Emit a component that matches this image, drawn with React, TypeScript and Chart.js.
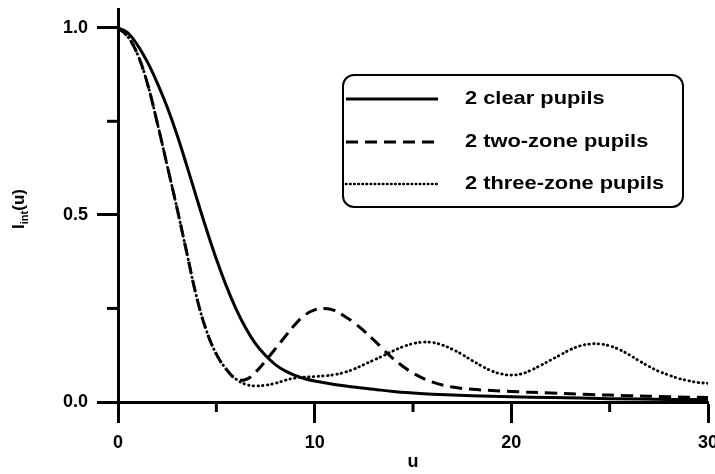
import React, { useEffect, useRef } from "react";
import { Chart, registerables } from "chart.js";

Chart.register(...registerables);

// ---- data ----
const uClear = [0, 0.5, 1, 1.5, 2, 2.5, 3, 3.5, 4, 4.5, 5, 5.5, 6, 6.5, 7, 7.5, 8, 8.5, 9, 9.5, 10, 11, 12, 13, 14, 15, 16, 18, 20, 22, 25, 28, 30];
const iClear = [1.0, 0.986, 0.953, 0.908, 0.852, 0.788, 0.714, 0.631, 0.545, 0.461, 0.382, 0.311, 0.249, 0.197, 0.155, 0.124, 0.1, 0.083, 0.071, 0.062, 0.056, 0.047, 0.04, 0.034, 0.028, 0.024, 0.021, 0.017, 0.014, 0.012, 0.009, 0.007, 0.006];

const uTwoZone = [0, 0.5, 1, 1.5, 2, 2.5, 3, 3.5, 4, 4.5, 5, 5.5, 6, 6.5, 7, 7.5, 8, 8.5, 9, 9.5, 10, 10.5, 11, 11.5, 12, 12.5, 13, 13.5, 14, 14.5, 15, 16, 17, 18, 19, 20, 22, 24, 26, 28, 30];
const iTwoZone = [1.0, 0.976, 0.928, 0.85, 0.745, 0.632, 0.518, 0.398, 0.28, 0.19, 0.128, 0.088, 0.062, 0.06, 0.08, 0.11, 0.142, 0.175, 0.207, 0.232, 0.246, 0.25, 0.245, 0.23, 0.212, 0.19, 0.166, 0.14, 0.115, 0.095, 0.077, 0.053, 0.04, 0.034, 0.031, 0.028, 0.024, 0.02, 0.017, 0.014, 0.012];

const uThreeZone = [0, 0.5, 1, 1.5, 2, 2.5, 3, 3.5, 4, 4.5, 5, 5.5, 6, 6.5, 7, 7.5, 8, 8.5, 9, 10, 10.5, 11, 11.5, 12, 12.5, 13, 13.5, 14, 14.5, 15, 15.5, 16, 16.5, 17, 17.5, 18, 18.5, 19, 19.5, 20, 20.5, 21, 21.5, 22, 22.5, 23, 23.5, 24, 24.5, 25, 25.5, 26, 26.5, 27, 27.5, 28, 28.5, 29, 29.5, 30];
const iThreeZone = [1.0, 0.976, 0.928, 0.85, 0.745, 0.632, 0.518, 0.398, 0.28, 0.19, 0.128, 0.088, 0.061, 0.047, 0.043, 0.045, 0.05, 0.058, 0.064, 0.068, 0.07, 0.073, 0.079, 0.088, 0.1, 0.112, 0.124, 0.137, 0.148, 0.156, 0.16, 0.159, 0.152, 0.141, 0.127, 0.111, 0.096, 0.083, 0.075, 0.072, 0.075, 0.085, 0.098, 0.112, 0.126, 0.14, 0.15, 0.155, 0.155, 0.15, 0.14, 0.126, 0.11, 0.095, 0.082, 0.072, 0.063, 0.057, 0.052, 0.05];

const seriesNames = ["2 clear pupils", "2 two-zone pupils", "2 three-zone pupils"];
const xMajorTicks = [0, 10, 20, 30];
const xMinorTicks = [5, 15, 25];
const yMajorTicks = [0, 0.5, 1.0];
const yMinorTicks = [0.25, 0.75];
const xTitle = "u";

const FONT = '"Liberation Sans", Arial, Helvetica, sans-serif';
const DASH = [12, 7];
const DOT = [0.5, 4.2];

const zip = (xs: number[], ys: number[]) => xs.map((x, i) => ({ x, y: ys[i] }));

const decorPlugin = {
  id: "decor",
  afterDraw(chart: any) {
    const ctx = chart.ctx as CanvasRenderingContext2D;
    const xs = chart.scales.x;
    const ys = chart.scales.y;
    const area = chart.chartArea;
    ctx.save();
    ctx.strokeStyle = "#000";
    ctx.fillStyle = "#000";
    ctx.lineWidth = 3;
    ctx.lineCap = "butt";
    // minor ticks
    xMinorTicks.forEach((v) => {
      const px = xs.getPixelForValue(v);
      ctx.beginPath();
      ctx.moveTo(px, area.bottom);
      ctx.lineTo(px, area.bottom + 10);
      ctx.stroke();
    });
    yMinorTicks.forEach((v) => {
      const py = ys.getPixelForValue(v);
      ctx.beginPath();
      ctx.moveTo(area.left - 11, py);
      ctx.lineTo(area.left, py);
      ctx.stroke();
    });

    // x title
    ctx.font = `bold 18px ${FONT}`;
    ctx.textAlign = "center";
    ctx.textBaseline = "middle";
    ctx.fillText(xTitle, (area.left + area.right) / 2, 462);

    // y title: I_int(u), rotated
    ctx.save();
    ctx.translate(18, 209);
    ctx.rotate(-Math.PI / 2);
    const big = `bold 17px ${FONT}`;
    const small = `bold 11px ${FONT}`;
    ctx.font = big;
    const wI = ctx.measureText("I").width;
    const wP = ctx.measureText("(u)").width;
    ctx.font = small;
    const wS = ctx.measureText("int").width;
    const total = wI + wS + wP;
    let cx = -total / 2;
    ctx.textAlign = "left";
    ctx.textBaseline = "alphabetic";
    ctx.font = big;
    ctx.fillText("I", cx, 6);
    cx += wI;
    ctx.font = small;
    ctx.fillText("int", cx, 10);
    cx += wS;
    ctx.font = big;
    ctx.fillText("(u)", cx, 6);
    ctx.restore();

    // legend
    const bx = 343, by = 75, bw = 340, bh = 132, r = 11;
    ctx.lineWidth = 2;
    ctx.beginPath();
    ctx.roundRect(bx, by, bw, bh, r);
    ctx.stroke();
    const rows = [99, 142, 184];
    const dashes = [[], DASH, DOT];
    rows.forEach((ry, i) => {
      ctx.save();
      ctx.lineWidth = i === 2 ? 2.6 : 3;
      ctx.lineCap = i === 2 ? "round" : "butt";
      ctx.setLineDash(i === 2 ? [0.5, 3.6] : (dashes[i] as number[]));
      ctx.beginPath();
      ctx.moveTo(346, ry);
      ctx.lineTo(438, ry);
      ctx.stroke();
      ctx.restore();
      ctx.save();
      ctx.font = `bold 19px ${FONT}`;
      ctx.textAlign = "left";
      ctx.textBaseline = "middle";
      ctx.translate(465, ry);
      ctx.scale(1.15, 1);
      ctx.fillText(seriesNames[i], 0, 0);
      ctx.restore();
    });
    ctx.restore();
  },
};

export default function App() {
  const ref = useRef<HTMLCanvasElement | null>(null);
  useEffect(() => {
    document.body.style.margin = "0";
    const canvas = ref.current!;
    const chart = new Chart(canvas, {
      type: "line",
      data: {
        datasets: [
          {
            label: seriesNames[0],
            data: zip(uClear, iClear),
            borderColor: "#000",
            borderWidth: 3,
            pointRadius: 0,
            tension: 0.4,
            fill: false,
          },
          {
            label: seriesNames[1],
            data: zip(uTwoZone, iTwoZone),
            borderColor: "#000",
            borderWidth: 3,
            borderDash: DASH,
            pointRadius: 0,
            tension: 0.4,
            fill: false,
          },
          {
            label: seriesNames[2],
            data: zip(uThreeZone, iThreeZone),
            borderColor: "#000",
            borderWidth: 2.8,
            borderDash: DOT,
            borderCapStyle: "round",
            pointRadius: 0,
            tension: 0.4,
            fill: false,
          },
        ],
      },
      options: {
        animation: false,
        responsive: false,
        events: [],
        layout: { padding: { top: 9, right: 7, left: 0, bottom: 0 } },
        plugins: { legend: { display: false }, tooltip: { enabled: false } },
        scales: {
          x: {
            type: "linear",
            min: 0,
            max: 30,
            afterBuildTicks: (s: any) => {
              s.ticks = xMajorTicks.map((v) => ({ value: v }));
            },
            afterFit: (s: any) => {
              s.height = 72;
              s.paddingLeft = 0;
              s.paddingRight = 0;
            },
            ticks: {
              color: "#000",
              font: { family: FONT, size: 18, weight: "bold" },
              padding: 9,
              maxRotation: 0,
              autoSkip: false,
              callback: (v: any) => String(v),
            },
            grid: {
              drawOnChartArea: false,
              drawTicks: true,
              tickLength: 21,
              tickWidth: 3,
              tickColor: "#000",
            },
            border: { display: true, color: "#000", width: 3 },
          },
          y: {
            type: "linear",
            min: 0,
            max: 1.05,
            afterBuildTicks: (s: any) => {
              s.ticks = yMajorTicks.map((v) => ({ value: v }));
            },
            afterFit: (s: any) => {
              s.width = 118;
              s.paddingTop = 0;
              s.paddingBottom = 0;
            },
            ticks: {
              color: "#000",
              font: { family: FONT, size: 18, weight: "bold" },
              padding: 9,
              autoSkip: false,
              callback: (v: any) => Number(v).toFixed(1),
            },
            grid: {
              drawOnChartArea: false,
              drawTicks: true,
              tickLength: 21,
              tickWidth: 3,
              tickColor: "#000",
            },
            border: { display: true, color: "#000", width: 3 },
          },
        },
      },
      plugins: [decorPlugin],
    } as any);
    return () => chart.destroy();
  }, []);
  return (
    <div style={{ width: 715, height: 474, background: "#fff" }}>
      <canvas ref={ref} width={715} height={474} />
    </div>
  );
}
